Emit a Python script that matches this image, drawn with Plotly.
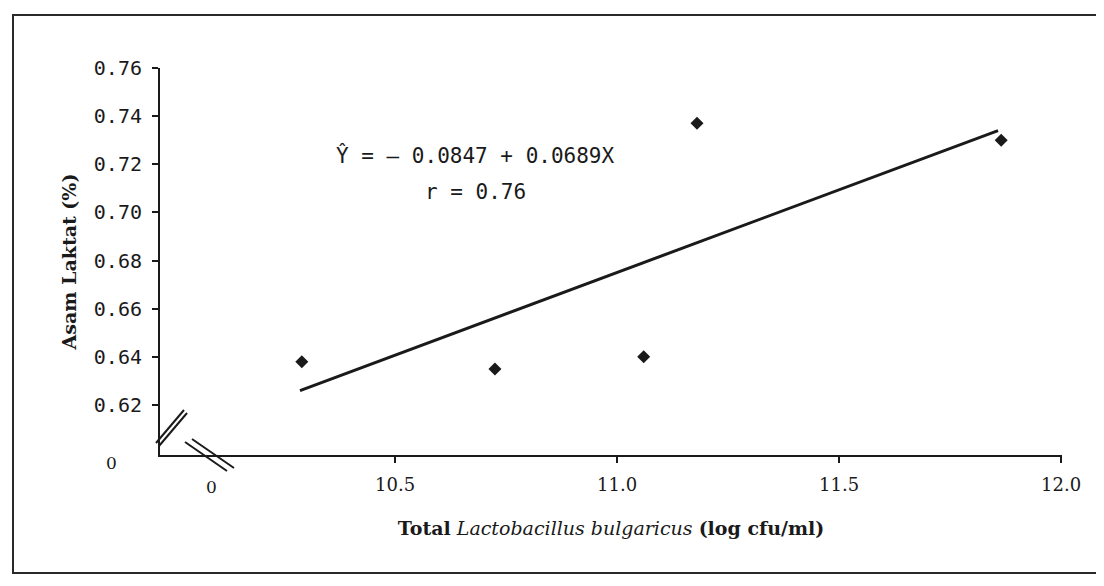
import plotly.graph_objects as go

# ---- data ----
x_vals = [10.29, 10.725, 11.06, 11.18, 11.865]      # Total L. bulgaricus (log cfu/ml)
y_vals = [0.638, 0.635, 0.640, 0.737, 0.730]        # Asam Laktat (%)
trend_x = [10.286, 11.858]                          # regression line ends
trend_y = [0.626, 0.734]
x_ticks = [10.5, 11.0, 11.5, 12.0]
x_tick_text = ["10.5", "11.0", "11.5", "12.0"]
y_ticks = [0.62, 0.64, 0.66, 0.68, 0.70, 0.72, 0.74, 0.76]
y_tick_text = ["0.62", "0.64", "0.66", "0.68", "0.70", "0.72", "0.74", "0.76"]
equation_text = "Ŷ = – 0.0847 + 0.0689X"
r_text = "r = 0.76"
x_title = "<b>Total</b> <i>Lactobacillus bulgaricus</i> <b>(log cfu/ml)</b>"
y_title = "<b>Asam Laktat (%)</b>"

# ---- layout geometry (pixels, in reference-image coordinates) ----
OFF = 8                      # page body margin
W, H = 1104 - OFF, 586 - OFF
L, R, T, B = 160, 1062, 68, 455  # plot area edges in the reference


def px(x):
    return (x - L) / (R - L)


def py(y):
    return (B - y) / (B - T)


INK = "#1a1a1a"

fig = go.Figure()
fig.add_trace(go.Scatter(
    x=trend_x, y=trend_y, mode="lines",
    line=dict(color=INK, width=3), showlegend=False, hoverinfo="skip"))
fig.add_trace(go.Scatter(
    x=x_vals, y=y_vals, mode="markers",
    marker=dict(symbol="diamond", size=10, color=INK), showlegend=False))

shapes = []
# outer frame
shapes.append(dict(type="rect", xref="paper", yref="paper",
                   x0=px(13), x1=px(1130), y0=py(573), y1=py(15),
                   line=dict(color="#2a2a2a", width=2), layer="below"))
# axis break marks on the y axis
for dx, dy in [(0, 0), (3, 3)]:
    shapes.append(dict(type="line", xref="paper", yref="paper",
                       x0=px(156 + dx), y0=py(443 + dy), x1=px(184 + dx), y1=py(410 + dy),
                       line=dict(color=INK, width=2)))
# axis break marks on the x axis
for dx, dy in [(0, 0), (7, -3)]:
    shapes.append(dict(type="line", xref="paper", yref="paper",
                       x0=px(185 + dx), y0=py(442 + dy), x1=px(227 + dx), y1=py(471 + dy),
                       line=dict(color=INK, width=2)))

annotations = [
    dict(text=equation_text, xref="paper", yref="paper", x=px(475), y=py(155),
         showarrow=False, xanchor="center", yanchor="middle",
         font=dict(family="DejaVu Sans Mono", size=21, color=INK)),
    dict(text=r_text, xref="paper", yref="paper", x=px(475), y=py(192),
         showarrow=False, xanchor="center", yanchor="middle",
         font=dict(family="DejaVu Sans Mono", size=21, color=INK)),
    # axis-break zero labels
    dict(text="0", xref="paper", yref="paper", x=px(111), y=py(463),
         showarrow=False, xanchor="center", yanchor="middle",
         font=dict(family="DejaVu Serif", size=17, color=INK)),
    dict(text="0", xref="paper", yref="paper", x=px(211), y=py(487),
         showarrow=False, xanchor="center", yanchor="middle",
         font=dict(family="DejaVu Serif", size=17, color=INK)),
]

fig.update_layout(
    width=W, height=H,
    margin=dict(l=L - OFF, r=W - (R - OFF), t=T - OFF, b=H - (B - OFF), autoexpand=False),
    paper_bgcolor="white", plot_bgcolor="white",
    shapes=shapes, annotations=annotations,
    xaxis=dict(
        range=[9.9707, 12.002], tickvals=x_ticks, ticktext=x_tick_text,
        showline=True, linecolor=INK, linewidth=2,
        ticks="outside", ticklen=6, tickwidth=1.5, tickcolor=INK,
        showgrid=False, zeroline=False, ticklabelstandoff=6,
        tickfont=dict(family="DejaVu Serif", size=18, color=INK),
        title=dict(text=x_title, standoff=28,
                   font=dict(family="DejaVu Serif", size=19, color=INK)),
    ),
    yaxis=dict(
        range=[0.59923, 0.76], tickvals=y_ticks, ticktext=y_tick_text,
        showline=True, linecolor=INK, linewidth=2,
        ticks="outside", ticklen=6, tickwidth=1.5, tickcolor=INK,
        showgrid=False, zeroline=False, ticklabelstandoff=6,
        tickfont=dict(family="DejaVu Sans Mono", size=20, color=INK),
        title=dict(text=y_title, standoff=12,
                   font=dict(family="DejaVu Serif", size=19, color=INK)),
    ),
)

fig.write_html("out.html")
